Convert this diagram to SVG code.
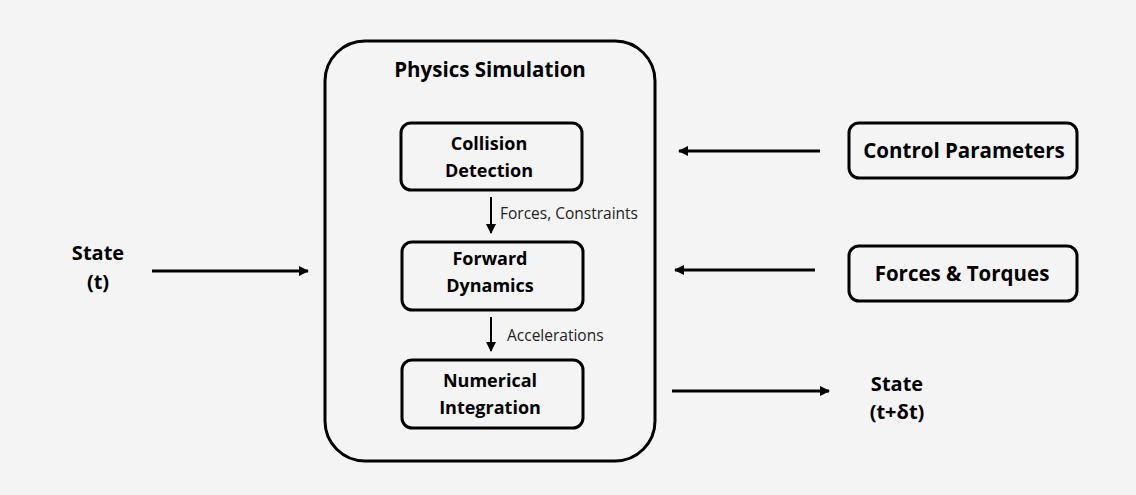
<svg xmlns="http://www.w3.org/2000/svg" width="1136" height="495" viewBox="0 0 1136 495">
<defs>
<marker id="ah" markerWidth="10" markerHeight="10" refX="9" refY="5" orient="auto" markerUnits="userSpaceOnUse">
<path d="M0,0 L10,5 L0,10 Z" fill="#000"/>
</marker>
<style>
.box{fill:none;stroke:#000;stroke-width:3}
.t{font-family:"Open Sans","Noto Sans",sans-serif;font-weight:bold;fill:#000;text-anchor:middle}
.l{font-family:"Open Sans","Noto Sans",sans-serif;fill:#222;font-size:15.5px}
.c{stroke:#000;stroke-width:3;fill:none}
.cs{stroke:#000;stroke-width:2;fill:none}
</style>
</defs>
<rect width="1136" height="495" fill="#f4f4f4"/>
<g id="physics-simulation">
<rect class="box" x="325" y="41" width="330" height="420" rx="40"/>
<text class="t" x="490" y="77" font-size="20.5">Physics Simulation</text>
</g>
<g id="collision-detection">
<rect class="box" x="401" y="123" width="181" height="67" rx="10"/>
<text class="t" x="489" y="150" font-size="18">Collision</text>
<text class="t" x="489" y="177" font-size="18">Detection</text>
</g>
<g id="forward-dynamics">
<rect class="box" x="402" y="242" width="181" height="68" rx="10"/>
<text class="t" x="490" y="265" font-size="18">Forward</text>
<text class="t" x="490" y="292" font-size="18">Dynamics</text>
</g>
<g id="numerical-integration">
<rect class="box" x="402" y="360" width="181" height="68" rx="10"/>
<text class="t" x="490" y="387" font-size="18">Numerical</text>
<text class="t" x="490" y="414" font-size="18">Integration</text>
</g>
<g id="state-t">
<text class="t" x="98" y="260" font-size="20">State</text>
<text class="t" x="98" y="289" font-size="20">(t)</text>
</g>
<g id="control-parameters">
<rect class="box" x="849" y="123" width="228" height="55" rx="10"/>
<text class="t" x="964" y="158" font-size="20.5">Control Parameters</text>
</g>
<g id="forces-torques">
<rect class="box" x="849" y="246" width="228" height="55" rx="10"/>
<text class="t" x="962" y="281" font-size="20.5">Forces &amp; Torques</text>
</g>
<g id="state-t-dt">
<text class="t" x="897" y="391" font-size="20">State</text>
<text class="t" x="897" y="419" font-size="20">(t+δt)</text>
</g>
<g id="connectors">
<line class="cs" x1="491" y1="197" x2="491" y2="233" marker-end="url(#ah)"/>
<text class="l" x="500" y="219">Forces, Constraints</text>
<line class="cs" x1="491" y1="317" x2="491" y2="351" marker-end="url(#ah)"/>
<text class="l" x="507" y="341">Accelerations</text>
<line class="c" x1="152" y1="271" x2="308" y2="271" marker-end="url(#ah)"/>
<line class="c" x1="820" y1="151" x2="679" y2="151" marker-end="url(#ah)"/>
<line class="c" x1="815" y1="270" x2="675" y2="270" marker-end="url(#ah)"/>
<line class="c" x1="672" y1="391" x2="829" y2="391" marker-end="url(#ah)"/>
</g>
</svg>
